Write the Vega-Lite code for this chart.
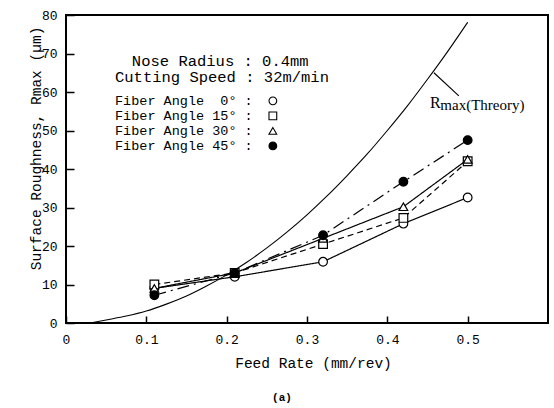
{
  "$schema": "https://vega.github.io/schema/vega-lite/v6.json",
  "width": 482,
  "height": 308,
  "autosize": "none",
  "padding": {"left": 66, "top": 15, "right": 6, "bottom": 85},
  "background": "white",
  "title": {"text": "(a)", "orient": "bottom", "dx": -25, "offset": 22, "fontSize": 11, "font": "Liberation Mono", "fontWeight": "bold", "color": "black"},
  "config": {
    "view": {"stroke": "black", "strokeWidth": 2},
    "axis": {"domain": false, "grid": false, "ticks": true, "tickColor": "black", "tickWidth": 1.5, "labelColor": "black", "titleColor": "black", "labelFont": "Liberation Mono", "titleFont": "Liberation Mono", "labelFontSize": 13, "titleFontSize": 14.5, "titleFontWeight": "normal", "labelOverlap": false}
  },
  "datasets": {
    "pts": [
      {"angle": "0", "f": 0.11, "r": 9.0},
      {"angle": "0", "f": 0.21, "r": 12.0},
      {"angle": "0", "f": 0.32, "r": 15.9},
      {"angle": "0", "f": 0.42, "r": 25.8},
      {"angle": "0", "f": 0.5, "r": 32.6},
      {"angle": "15", "f": 0.11, "r": 10.0},
      {"angle": "15", "f": 0.21, "r": 13.0},
      {"angle": "15", "f": 0.32, "r": 20.5},
      {"angle": "15", "f": 0.42, "r": 27.3},
      {"angle": "15", "f": 0.5, "r": 42.0},
      {"angle": "30", "f": 0.11, "r": 9.0},
      {"angle": "30", "f": 0.21, "r": 13.0},
      {"angle": "30", "f": 0.32, "r": 22.0},
      {"angle": "30", "f": 0.42, "r": 30.2},
      {"angle": "30", "f": 0.5, "r": 42.5},
      {"angle": "45", "f": 0.11, "r": 7.2},
      {"angle": "45", "f": 0.21, "r": 13.0},
      {"angle": "45", "f": 0.32, "r": 22.8},
      {"angle": "45", "f": 0.42, "r": 36.7},
      {"angle": "45", "f": 0.5, "r": 47.5}
    ],
    "theory": [
      {"f": 0.03, "r": 0.0},
      {"f": 0.05, "r": 0.8},
      {"f": 0.075, "r": 1.8},
      {"f": 0.1, "r": 3.1},
      {"f": 0.125, "r": 4.9},
      {"f": 0.15, "r": 7.0},
      {"f": 0.175, "r": 9.6},
      {"f": 0.2, "r": 12.5},
      {"f": 0.225, "r": 15.8},
      {"f": 0.25, "r": 19.5},
      {"f": 0.275, "r": 23.6},
      {"f": 0.3, "r": 28.1},
      {"f": 0.325, "r": 33.0},
      {"f": 0.35, "r": 38.3},
      {"f": 0.375, "r": 43.9},
      {"f": 0.4, "r": 50.0},
      {"f": 0.425, "r": 56.4},
      {"f": 0.45, "r": 63.3},
      {"f": 0.475, "r": 70.5},
      {"f": 0.5, "r": 78.1}
    ],
    "header": [
      {"f": 0.082, "r": 68.1, "label": "Nose Radius : 0.4mm"},
      {"f": 0.061, "r": 63.9, "label": "Cutting Speed : 32m/min"}
    ],
    "notes": [
      {"f": 0.061, "r": 57.7, "label": "Fiber Angle \u00a00° :"},
      {"f": 0.061, "r": 53.8, "label": "Fiber Angle 15° :"},
      {"f": 0.061, "r": 49.9, "label": "Fiber Angle 30° :"},
      {"f": 0.061, "r": 46.0, "label": "Fiber Angle 45° :"}
    ],
    "keys": [
      {"angle": "0", "f": 0.2575, "r": 57.7},
      {"angle": "15", "f": 0.2575, "r": 53.8},
      {"angle": "30", "f": 0.2575, "r": 49.9},
      {"angle": "45", "f": 0.2575, "r": 46.0}
    ],
    "leader": [
      {"f": 0.489, "r": 59.0, "f2": 0.458, "r2": 65.0}
    ]
  },
  "encoding": {
    "x": {"field": "f", "type": "quantitative", "scale": {"domain": [0, 0.6], "nice": false}, "axis": {"values": [0, 0.1, 0.2, 0.3, 0.4, 0.5], "format": ".1~f", "labelOverlap": false, "title": "Feed Rate (mm/rev)", "offset": -7, "tickSize": 7, "labelPadding": 10, "titleX": 247, "titleY": 47, "titleBaseline": "middle", "labelFlush": false}},
    "y": {"field": "r", "type": "quantitative", "scale": {"domain": [0, 80], "nice": false}, "axis": {"values": [0, 10, 20, 30, 40, 50, 60, 70, 80], "labelOverlap": false, "title": "Surface Roughness, Rmax (µm)", "offset": -8, "tickSize": 8, "labelPadding": 9, "titleX": -38, "titleY": 133, "titleBaseline": "middle", "titleAngle": -90}}
  },
  "layer": [
    {
      "data": {"name": "theory"},
      "mark": {"type": "line", "color": "black", "strokeWidth": 1.1, "interpolate": "monotone"}
    },
    {
      "data": {"name": "pts"},
      "mark": {"type": "line", "color": "black", "strokeWidth": 1.2},
      "encoding": {
        "strokeDash": {"field": "angle", "type": "nominal", "scale": {"domain": ["0", "15", "30", "45"], "range": [[1, 0], [6, 4], [1, 0], [12, 5, 2, 5]]}, "legend": null}
      }
    },
    {
      "data": {"name": "pts"},
      "mark": {"type": "point", "filled": true, "stroke": "black", "strokeWidth": 1.2, "opacity": 1},
      "encoding": {
        "shape": {"field": "angle", "type": "nominal", "scale": {"domain": ["0", "15", "30", "45"], "range": ["circle", "square", "triangle-up", "circle"]}, "legend": null},
        "fill": {"field": "angle", "type": "nominal", "scale": {"domain": ["0", "15", "30", "45"], "range": ["white", "white", "white", "black"]}, "legend": null},
        "size": {"value": 75}
      }
    },
    {
      "data": {"name": "header"},
      "mark": {"type": "text", "align": "left", "baseline": "middle", "font": "Liberation Mono", "fontSize": 15.5, "color": "black"},
      "encoding": {"text": {"field": "label"}}
    },
    {
      "data": {"name": "notes"},
      "mark": {"type": "text", "align": "left", "baseline": "middle", "font": "Liberation Mono", "fontSize": 13.5, "color": "black"},
      "encoding": {"text": {"field": "label"}}
    },
    {
      "data": {"name": "keys"},
      "mark": {"type": "point", "filled": true, "stroke": "black", "strokeWidth": 1.1, "opacity": 1},
      "encoding": {
        "shape": {"field": "angle", "type": "nominal", "scale": {"domain": ["0", "15", "30", "45"], "range": ["circle", "square", "triangle-up", "circle"]}, "legend": null},
        "fill": {"field": "angle", "type": "nominal", "scale": {"domain": ["0", "15", "30", "45"], "range": ["white", "white", "white", "black"]}, "legend": null},
        "size": {"value": 60}
      }
    },
    {
      "data": {"name": "leader"},
      "mark": {"type": "rule", "color": "black", "strokeWidth": 1.1},
      "encoding": {
        "x2": {"field": "f2"},
        "y2": {"field": "r2"}
      }
    },
    {
      "data": {"values": [{"f": 0.453, "r": 57.1, "t": "R"}]},
      "mark": {"type": "text", "align": "left", "baseline": "middle", "font": "Liberation Serif", "fontSize": 16, "color": "black"},
      "encoding": {"text": {"field": "t"}}
    },
    {
      "data": {"values": [{"f": 0.466, "r": 56.6, "t": "max(Threory)"}]},
      "mark": {"type": "text", "align": "left", "baseline": "middle", "font": "Liberation Serif", "fontSize": 15, "color": "black"},
      "encoding": {"text": {"field": "t"}}
    }
  ]
}
